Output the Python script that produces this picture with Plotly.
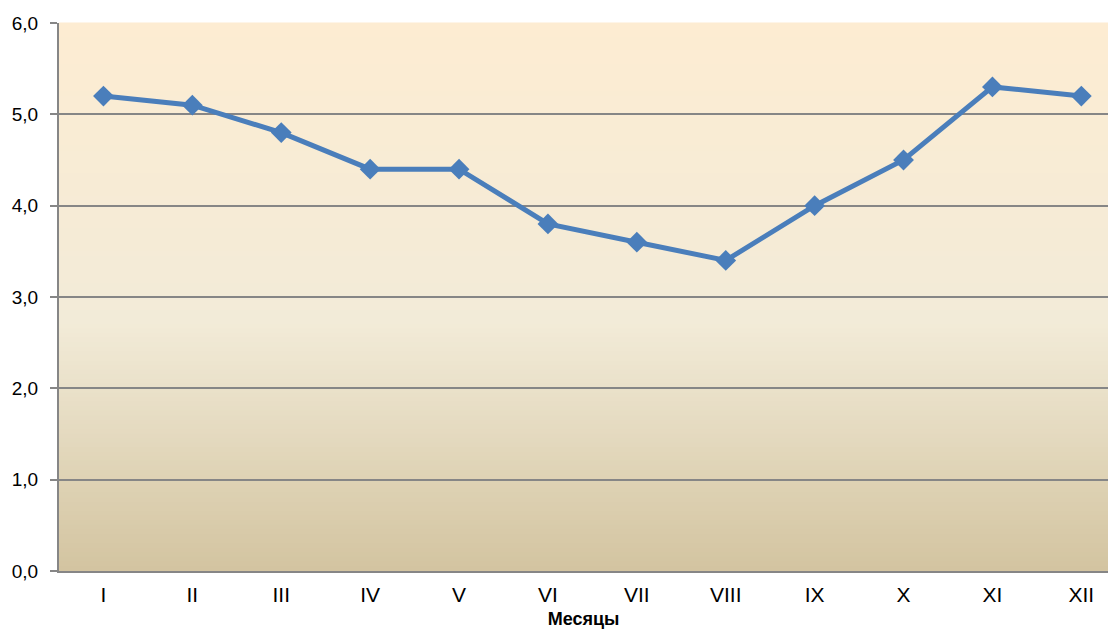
import plotly.graph_objects as go

months = ["I", "II", "III", "IV", "V", "VI", "VII", "VIII", "IX", "X", "XI", "XII"]
values = [5.2, 5.1, 4.8, 4.4, 4.4, 3.8, 3.6, 3.4, 4.0, 4.5, 5.3, 5.2]
y_tickvals = [0, 1, 2, 3, 4, 5, 6]
y_ticktext = ["0,0", "1,0", "2,0", "3,0", "4,0", "5,0", "6,0"]
x_title = "Месяцы"

# page has an 8px body margin, so the figure is sized to fit the window exactly
W, H = 1100, 621
L, R, T, B = 51, 0, 15, 58


def lerp(c1, c2, t):
    return tuple(round(a + (b - a) * t) for a, b in zip(c1, c2))


# gradient stops (position from top 0..1, color)
stops = [(0.0, (253, 236, 210)), (0.55, (242, 235, 216)), (1.0, (211, 196, 160))]


def color_at(p):
    for (p1, c1), (p2, c2) in zip(stops[:-1], stops[1:]):
        if p1 <= p <= p2:
            return lerp(c1, c2, (p - p1) / (p2 - p1))
    return stops[-1][1]


shapes = []
N = 120
for i in range(N):
    top = 1 - i / N
    bot = 1 - (i + 1) / N
    c = color_at((i + 0.5) / N)
    shapes.append(dict(type="rect", xref="paper", yref="paper", x0=0, x1=1,
                       y0=bot - 0.001, y1=top + 0.001, layer="below",
                       line=dict(width=0), fillcolor="rgb(%d,%d,%d)" % c))

fig = go.Figure()
fig.add_trace(go.Scatter(
    x=months, y=values, mode="lines+markers",
    line=dict(color="#4A7EBB", width=5),
    marker=dict(symbol="diamond", size=16, color="#4A7EBB"),
    showlegend=False, cliponaxis=False,
))

font = "Liberation Sans, Arial, sans-serif"
fig.update_layout(
    width=W, height=H,
    margin=dict(l=L, r=R, t=T, b=B, pad=0, autoexpand=False),
    paper_bgcolor="white", plot_bgcolor="rgba(0,0,0,0)",
    shapes=shapes,
    font=dict(family=font, size=19, color="#000000"),
    xaxis=dict(
        type="category", range=[-0.5, 11.3], automargin=False,
        showgrid=False, showline=True, linecolor="#868686", linewidth=2,
        ticks="", tickfont=dict(size=21), ticklabelstandoff=4,
        title=dict(text="<b>" + x_title + "</b>", font=dict(size=18), standoff=14),
    ),
    yaxis=dict(
        range=[0, 6], tickvals=y_tickvals, ticktext=y_ticktext, automargin=False,
        showgrid=True, gridcolor="#868686", gridwidth=1.5,
        showline=True, linecolor="#868686", linewidth=2,
        ticks="outside", ticklen=7, tickcolor="#868686", tickwidth=1.5,
        ticklabelstandoff=8,
        zeroline=False, tickfont=dict(size=19),
    ),
)

fig.write_html("out.html")
